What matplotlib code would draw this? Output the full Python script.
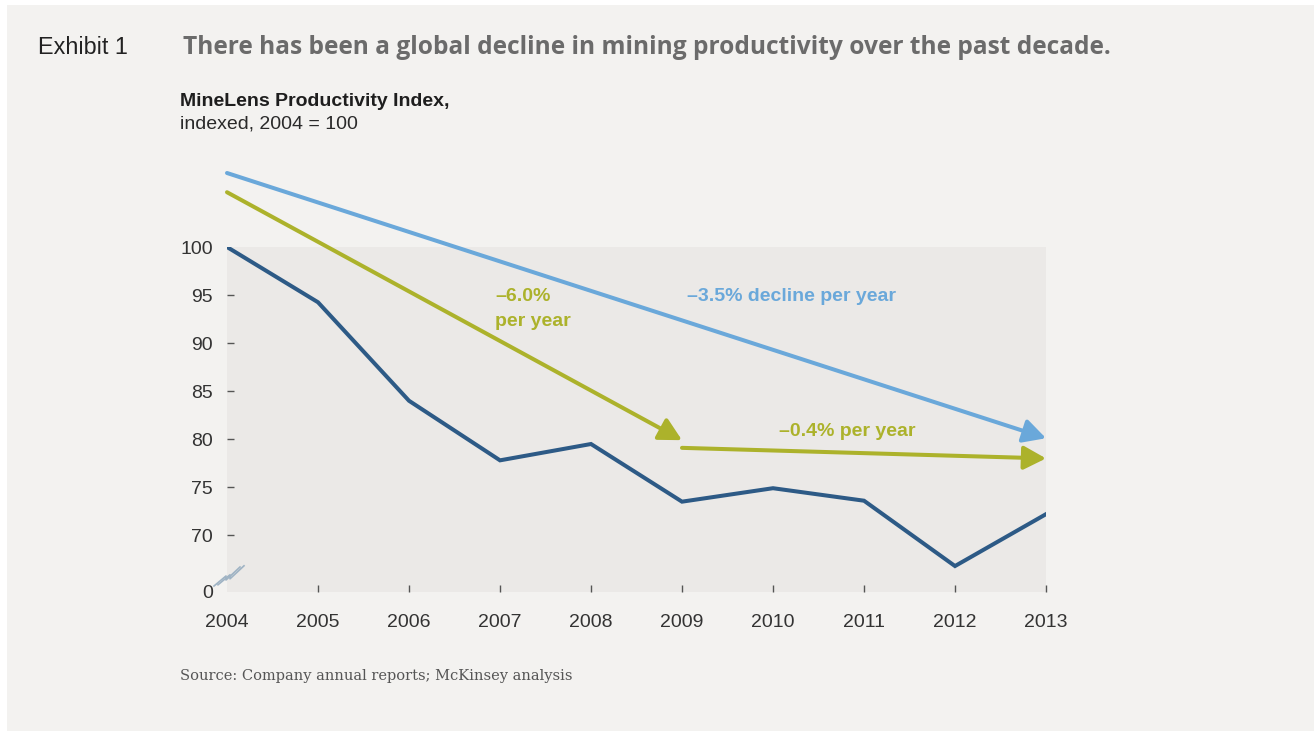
import matplotlib
matplotlib.use("Agg")
import matplotlib.pyplot as plt
from matplotlib.patches import Rectangle
from matplotlib.lines import Line2D

# ---- data ----
years = [2004, 2005, 2006, 2007, 2008, 2009, 2010, 2011, 2012, 2013]
index_values = [100, 94.25, 84.0, 77.8, 79.5, 73.5, 74.9, 73.6, 66.8, 72.2]
ytick_values = [64.1, 70, 75, 80, 85, 90, 95, 100]
ytick_labels = ["0", "70", "75", "80", "85", "90", "95", "100"]
# trend arrows: (x0, y0, x1, y1)
trend_35 = (2004, 107.7, 2013, 80.1)
trend_60 = (2004, 105.7, 2009, 79.9)
trend_04 = (2009, 79.1, 2013, 78.0)

W, H = 1316, 732
fig = plt.figure(figsize=(W / 100, H / 100), dpi=100)
fig.patch.set_facecolor("white")
fig.add_artist(Rectangle((7 / W, 1 - 731 / H), (1314 - 7) / W, (731 - 5) / H,
                         transform=fig.transFigure, facecolor="#f3f2f0",
                         edgecolor="none", zorder=0))

FONT = "Liberation Sans"
DARK = "#2d5a86"
LBLUE = "#6aa8da"
OLIVE = "#acb22b"

ax = fig.add_axes([227 / W, 1 - 592 / H, (1046 - 227) / W, (592 - 247) / H])
ax.set_facecolor("#ebe9e7")
ax.set_xlim(2004, 2013)
ax.set_ylim(64.1, 100)
for s in ax.spines.values():
    s.set_visible(False)

ax.set_yticks(ytick_values)
ax.set_yticklabels(ytick_labels, fontsize=14, color="#333333", family=FONT)
ax.set_xticks(years)
ax.set_xticklabels([str(y) for y in years], fontsize=14, color="#333333", family=FONT)
ax.tick_params(axis="y", direction="in", length=5, width=1, color="#555555", pad=10)
ax.tick_params(axis="x", direction="in", length=5, width=1, color="#555555", pad=16)
for t in [ax.yaxis.get_major_ticks()[0], ax.yaxis.get_major_ticks()[-1]]:
    t.tick1line.set_visible(False)
ax.xaxis.get_major_ticks()[0].tick1line.set_visible(False)

ax.plot(years, index_values, color=DARK, lw=2.9, solid_joinstyle="miter", zorder=3)


def arrow(seg, color):
    x0, y0, x1, y1 = seg
    ax.annotate("", xy=(x1, y1), xytext=(x0, y0), annotation_clip=False,
                arrowprops=dict(arrowstyle="-|>,head_length=0.85,head_width=0.45",
                                lw=2.9, color=color, shrinkA=0, shrinkB=0,
                                mutation_scale=16),
                zorder=4)


arrow(trend_35, LBLUE)
arrow(trend_60, OLIVE)
arrow(trend_04, OLIVE)

ax.text(2006.95, 94.8, "\u20136.0%", color=OLIVE, fontsize=14,
        fontweight="bold", family=FONT, ha="left", va="center")
ax.text(2006.95, 92.2, "per year", color=OLIVE, fontsize=14,
        fontweight="bold", family=FONT, ha="left", va="center")
ax.text(2009.05, 94.9, "\u20133.5% decline per year", color=LBLUE, fontsize=14,
        fontweight="bold", family=FONT, ha="left", va="center")
ax.text(2010.07, 80.8, "\u20130.4% per year", color=OLIVE, fontsize=14,
        fontweight="bold", family=FONT, ha="left", va="center")

# axis break symbol
for off in (0, 4):
    xs = [214 + off, 226 + off, 226 + off, 240 + off]
    ys = [586, 576, 580, 567]
    fig.add_artist(Line2D([x / W for x in xs], [1 - (y - off * 0.3) / H for y in ys],
                          transform=fig.transFigure, color="#9fb3c4", lw=1.2))

# titles
renderer = fig.canvas.get_renderer()


def fit_text(x, y, s, width_px, size, **kw):
    t = fig.text(x / W, 1 - y / H, s, fontsize=size, va="center", ha="left", **kw)
    w = t.get_window_extent(renderer).width
    t.set_fontsize(size * width_px / w)
    return t


fit_text(38, 47, "Exhibit 1", 90, 15, color="#222222", family=FONT)
fit_text(183, 48,
         "There has been a global decline in mining productivity over the past decade.",
         930, 16, color="#6b6b6b", fontweight="bold", family="Open Sans")
fig.text(180 / W, 1 - 101 / H, "MineLens Productivity Index,", fontsize=14,
         color="#1e1e1e", fontweight="bold", family=FONT, va="center", ha="left")
fig.text(180 / W, 1 - 124 / H, "indexed, 2004 = 100", fontsize=14,
         color="#2a2a2a", family=FONT, va="center", ha="left")
fig.text(180 / W, 1 - 676 / H, "Source: Company annual reports; McKinsey analysis",
         fontsize=10.5, color="#555555", family="DejaVu Serif", va="center", ha="left")

fig.savefig("out.png", dpi=100, facecolor=fig.get_facecolor())
